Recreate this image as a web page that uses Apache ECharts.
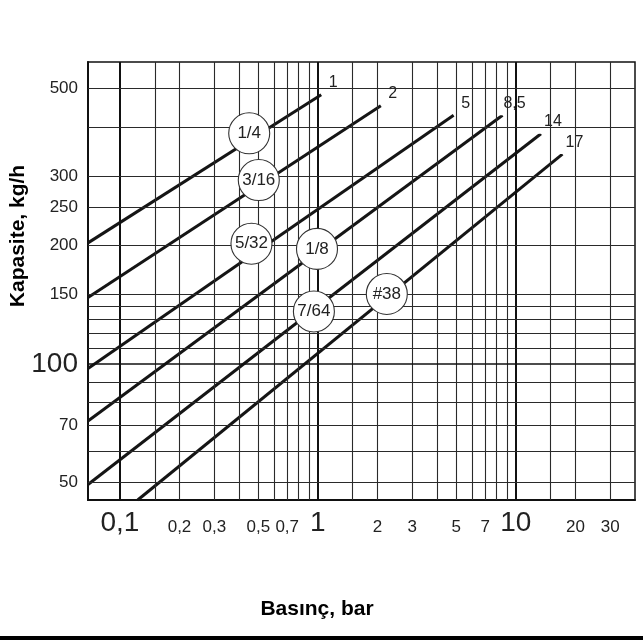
<!DOCTYPE html>
<html>
<head>
<meta charset="utf-8">
<script src="https://cdn.jsdelivr.net/npm/echarts@6/dist/echarts.min.js"></script>
<style>
html, body { margin: 0; padding: 0; background: #fff; }
#chart { width: 643px; height: 640px; }
</style>
</head>
<body>
<div id="chart"></div>
<script>
// axis ranges (bar, kg/h)
var pressureMin = 0.069, pressureMax = 40;
var capMin = 45.2, capMax = 584;

// one line per orifice: start and end point [pressure, capacity]
var lineNames = ['1/4', '3/16', '5/32', '1/8', '7/64', '#38'];
var endLabels = ['1', '2', '5', '8,5', '14', '17'];
var lineStarts = [[0.069, 203], [0.069, 147.6], [0.069, 97.5], [0.069, 71.7], [0.069, 49.5], [0.123, 45.2]];
var lineEnds = [[1.04, 482], [2.08, 452], [4.85, 428], [8.57, 428], [13.4, 384], [17.2, 341]];
var badgePos = [[0.45, 385], [0.503, 293], [0.462, 202], [0.99, 196], [0.955, 136], [2.23, 150.6]];

// grid lines and tick labels
var xMajor = [0.1, 1, 10];
var xMinor = [0.15, 0.2, 0.3, 0.4, 0.5, 0.6, 0.7, 0.8, 0.9, 1.5, 2, 3, 4, 5, 6, 7, 8, 9, 15, 20, 30];
var xSmallLabels = [0.2, 0.3, 0.5, 0.7, 2, 3, 5, 7, 20, 30];
var yMajor = [100];
var yMinor = [50, 60, 70, 80, 90, 110, 120, 130, 140, 150, 200, 250, 300, 400, 500];
var ySmallLabels = [50, 70, 150, 200, 250, 300, 500];

var FONT = '"Liberation Sans", Arial, Helvetica, sans-serif';

function fmt(v) { return String(v).replace('.', ','); }

var gridLines = [];
xMajor.forEach(function (v) {
    gridLines.push({
        xAxis: v,
        lineStyle: { color: '#111', width: 2, type: 'solid' },
        label: { show: true, position: 'start', formatter: fmt(v), fontSize: 28, fontFamily: FONT, color: '#222', distance: 9 }
    });
});
xMinor.forEach(function (v) {
    var lab = xSmallLabels.indexOf(v) >= 0;
    gridLines.push({
        xAxis: v,
        lineStyle: { color: '#2a2a2a', width: 1.1, type: 'solid' },
        label: { show: lab, position: 'start', formatter: fmt(v), fontSize: 17, fontFamily: FONT, color: '#222', distance: 19 }
    });
});
yMajor.forEach(function (v) {
    gridLines.push({
        yAxis: v,
        lineStyle: { color: '#111', width: 1.6, type: 'solid' },
        label: { show: true, position: 'start', formatter: fmt(v), fontSize: 28, fontFamily: FONT, color: '#222', distance: 10 }
    });
});
yMinor.forEach(function (v) {
    var lab = ySmallLabels.indexOf(v) >= 0;
    gridLines.push({
        yAxis: v,
        lineStyle: { color: '#2a2a2a', width: 1.1, type: 'solid' },
        label: { show: lab, position: 'start', formatter: fmt(v), fontSize: 17, fontFamily: FONT, color: '#222', distance: 10 }
    });
});

var series = [{
    type: 'line',
    data: [],
    z: 1,
    silent: true,
    markLine: {
        symbol: ['none', 'none'],
        silent: true,
        animation: false,
        label: { show: false },
        emphasis: { disabled: true },
        data: gridLines
    }
}];

lineNames.forEach(function (name, i) {
    series.push({
        type: 'line',
        name: name,
        data: [lineStarts[i], lineEnds[i]],
        showSymbol: false,
        silent: true,
        z: 3,
        lineStyle: { color: '#151515', width: 3 },
        endLabel: {
            show: true,
            formatter: endLabels[i],
            fontSize: 16,
            fontFamily: FONT,
            color: '#222',
            backgroundColor: '#fff',
            padding: [4, 7],
            align: 'center',
            offset: [4, -12]
        }
    });
});

series.push({
    type: 'scatter',
    silent: true,
    z: 5,
    symbolSize: 41,
    data: badgePos.map(function (p, i) { return { value: p, name: lineNames[i] }; }),
    itemStyle: { color: '#fff', borderColor: '#333', borderWidth: 1.1, opacity: 1 },
    label: { show: true, position: 'inside', formatter: '{b}', fontSize: 17, fontFamily: FONT, color: '#222' }
});

var chart = echarts.init(document.getElementById('chart'));
chart.setOption({
    animation: false,
    backgroundColor: '#fff',
    grid: { left: 88, right: 8, top: 62, bottom: 140, show: true, borderColor: '#111', borderWidth: 1.5 },
    xAxis: {
        type: 'log', logBase: 10, min: pressureMin, max: pressureMax,
        axisLine: { show: true, lineStyle: { color: '#111', width: 2 } },
        axisTick: { show: false }, axisLabel: { show: false }, splitLine: { show: false }
    },
    yAxis: {
        type: 'log', logBase: 10, min: capMin, max: capMax,
        axisLine: { show: true, lineStyle: { color: '#111', width: 2 } },
        axisTick: { show: false }, axisLabel: { show: false }, splitLine: { show: false }
    },
    graphic: [
        { type: 'text', x: 18, y: 236, rotation: Math.PI / 2,
          style: { text: 'Kapasite, kg/h', font: 'bold 21px ' + FONT, fill: '#000', align: 'center', verticalAlign: 'middle' } },
        { type: 'text', x: 317, y: 609,
          style: { text: 'Basınç, bar', font: 'bold 21px ' + FONT, fill: '#000', align: 'center', verticalAlign: 'middle' } },
        { type: 'rect', shape: { x: 0, y: 636, width: 643, height: 4 }, style: { fill: '#000' } }
    ],
    series: series
});
</script>
</body>
</html>
